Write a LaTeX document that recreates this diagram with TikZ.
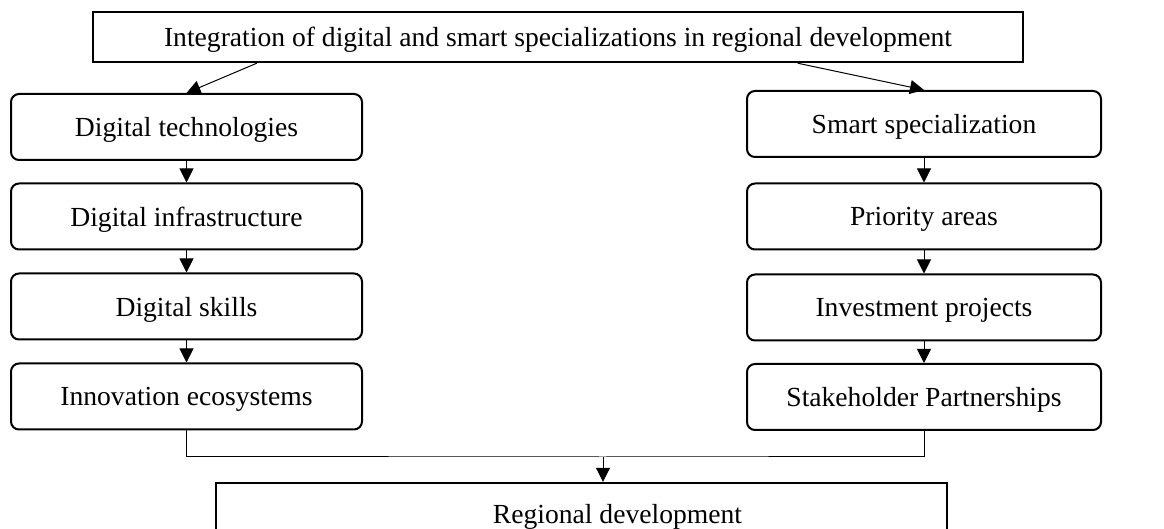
\documentclass[tikz,border=0pt]{standalone}
\usepackage{fontspec}
\setmainfont{Liberation Serif}
\usepackage{tikz}
\usetikzlibrary{arrows.meta, positioning, calc}

\begin{document}
\begin{tikzpicture}[x=0.5pt, y=-0.5pt, font=\fontsize{13.8}{16}\selectfont]
    % Define styles
    \tikzstyle{topbox} = [rectangle, draw, line width=1.2pt, minimum width=465pt, minimum height=25pt, inner sep=2pt, text depth=0pt]
    \tikzstyle{stepbox} = [rectangle, draw, rounded corners=4pt, line width=1pt, minimum height=33pt, inner sep=2pt, text depth=0pt]
    \tikzstyle{line} = [draw, line width=0.5pt]
    \tikzstyle{arrow} = [line, -{Triangle[length=7pt, width=7pt]}]

    \useasboundingbox (0,0) rectangle (1164,529);

    % Top block
    \node[topbox] (Top) at (558,37) {Integration of digital and smart specializations in regional development};

    % Left column: digital side
    \node[stepbox, minimum width=175.5pt] (DigTech) at (186.5,127) {Digital technologies};
    \node[stepbox, minimum width=175.5pt] (DigInfra) at (186.5,216.5) {Digital infrastructure};
    \node[stepbox, minimum width=175.5pt] (DigSkills) at (186.5,306.5) {Digital skills};
    \node[stepbox, minimum width=175.5pt] (InnoEco) at (186.5,396.5) {Innovation ecosystems};

    % Right column: smart specialization side
    \node[stepbox, minimum width=177pt] (SmartSpec) at (924,124) {Smart specialization};
    \node[stepbox, minimum width=177pt] (Priority) at (924,216.5) {Priority areas};
    \node[stepbox, minimum width=177pt] (Invest) at (924,307.5) {Investment projects};
    \node[stepbox, minimum width=177pt] (Partner) at (924,397) {Stakeholder Partnerships};

    % Bottom block (cut by the page edge)
    \node[topbox, minimum width=365.5pt, minimum height=31pt] (RegDev) at (581.5,514) {\hspace*{36pt}Regional development};

    % Arrows from the top block
    \draw[arrow] ($(Top.south west)!0.177!(Top.south east)$) -- (DigTech.north);
    \draw[arrow] ($(Top.south west)!0.757!(Top.south east)$) -- (SmartSpec.north);

    % Left chain
    \draw[arrow] (DigTech) -- (DigInfra);
    \draw[arrow] (DigInfra) -- (DigSkills);
    \draw[arrow] (DigSkills) -- (InnoEco);

    % Right chain
    \draw[arrow] (SmartSpec) -- (Priority);
    \draw[arrow] (Priority) -- (Invest);
    \draw[arrow] (Invest) -- (Partner);

    % Merge both columns into regional development
    \coordinate (Merge) at (603,457);
    \draw[line] (InnoEco.south) |- (Merge) -| (Partner.south);
    \draw[arrow] (Merge) -- (Merge |- RegDev.north);

\end{tikzpicture}
\end{document}
